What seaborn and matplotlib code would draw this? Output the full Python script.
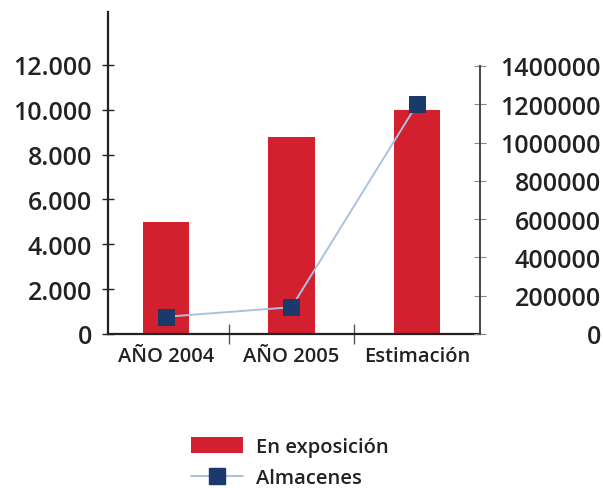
import numpy as np
import pandas as pd
import matplotlib
matplotlib.use("Agg")
import matplotlib.pyplot as plt
import seaborn as sns
from matplotlib.patches import Patch
from matplotlib.lines import Line2D

# Data
categories = ["AÑO 2004", "AÑO 2005", "Estimación"]
en_exposicion = [5000, 8800, 10000]
almacenes = [90000, 140000, 1200000]
left_ticks = [0, 2000, 4000, 6000, 8000, 10000, 12000]
left_tick_labels = ["0", "2.000", "4.000", "6.000", "8.000", "10.000", "12.000"]
right_ticks = [0, 200000, 400000, 600000, 800000, 1000000, 1200000, 1400000]
right_tick_labels = ["0", "200000", "400000", "600000", "800000", "1000000", "1200000", "1400000"]
series_names = ["En exposición", "Almacenes"]

BAR_RED = "#d3202f"
LINE_BLUE = "#a9c2e0"
MARKER_NAVY = "#1b3a6b"
TEXT = "#222222"
AXIS = "#222222"

sns.set_theme(style="white")
plt.rcParams["font.family"] = ["Open Sans", "DejaVu Sans"]
plt.rcParams["font.weight"] = "semibold"

df = pd.DataFrame({"categoria": categories, "exposicion": en_exposicion,
                   "almacenes": almacenes})
df["pos"] = np.arange(len(df))

W, H = 603, 489
fig = plt.figure(figsize=(W / 100, H / 100), dpi=100)
ax = fig.add_axes([108 / W, 1 - 335 / H, (480 - 108) / W, (335 - 13) / H])

sns.barplot(data=df, x="categoria", y="exposicion", color=BAR_RED,
            saturation=1, width=0.37, ax=ax, zorder=2)
for p in ax.patches:
    p.set_edgecolor("none")

ax.set_xlim(-0.462, 2.502)
ax.set_ylim(0, 14360)
ax.set_xlabel("")
ax.set_ylabel("")

ax.set_yticks(left_ticks)
ax.set_yticklabels(left_tick_labels)
ax.tick_params(axis="y", direction="inout", length=9, width=1, color=AXIS,
               labelsize=18, labelcolor=TEXT, pad=7, left=True)
ax.set_xticks(df["pos"])
ax.set_xticklabels(categories)
ax.tick_params(axis="x", which="major", length=0, labelsize=14.5,
               labelcolor=TEXT, pad=9)
ax.set_xticks([0.5, 1.5], minor=True)
ax.tick_params(axis="x", which="minor", direction="inout", length=14,
               width=1, color="#555555", bottom=True)

for side in ["top", "right"]:
    ax.spines[side].set_visible(False)
for side in ["left", "bottom"]:
    ax.spines[side].set_color(AXIS)
    ax.spines[side].set_linewidth(1.6)

# Secondary axis for warehouses
ax2 = ax.twinx()
sns.lineplot(data=df, x="pos", y="almacenes", ax=ax2, color=LINE_BLUE,
             linewidth=1.4, marker="s", markersize=11,
             markerfacecolor=MARKER_NAVY, markeredgecolor=MARKER_NAVY,
             zorder=3)
ax2.set_ylim(0, 1682000)
ax2.set_xlim(-0.462, 2.502)
ax2.set_ylabel("")
ax2.set_xlabel("")
ax2.set_yticks(right_ticks)
ax2.set_yticklabels(right_tick_labels)
ax2.tick_params(axis="y", direction="inout", length=8, width=0.8,
                color="#888888", labelsize=18, labelcolor=TEXT, pad=83,
                right=True)
for lbl in ax2.get_yticklabels():
    lbl.set_horizontalalignment("right")
for side in ["top", "left", "bottom"]:
    ax2.spines[side].set_visible(False)
ax2.spines["right"].set_color("#444444")
ax2.spines["right"].set_linewidth(1.4)
ax2.spines["right"].set_bounds(0, 1400000)

handles = [
    Patch(facecolor=BAR_RED, edgecolor="none"),
    Line2D([0], [0], color=LINE_BLUE, linewidth=1.4, marker="s",
           markersize=11, markerfacecolor=MARKER_NAVY,
           markeredgecolor=MARKER_NAVY),
]
leg = fig.legend(handles, series_names, loc="upper left",
                 bbox_to_anchor=(181 / W, 1 - 428 / H), frameon=False,
                 fontsize=14.5, handlelength=2.6, handleheight=0.8,
                 handletextpad=0.6, labelspacing=0.55, borderpad=0)
for t in leg.get_texts():
    t.set_color(TEXT)

fig.savefig("out.png", dpi=100)
